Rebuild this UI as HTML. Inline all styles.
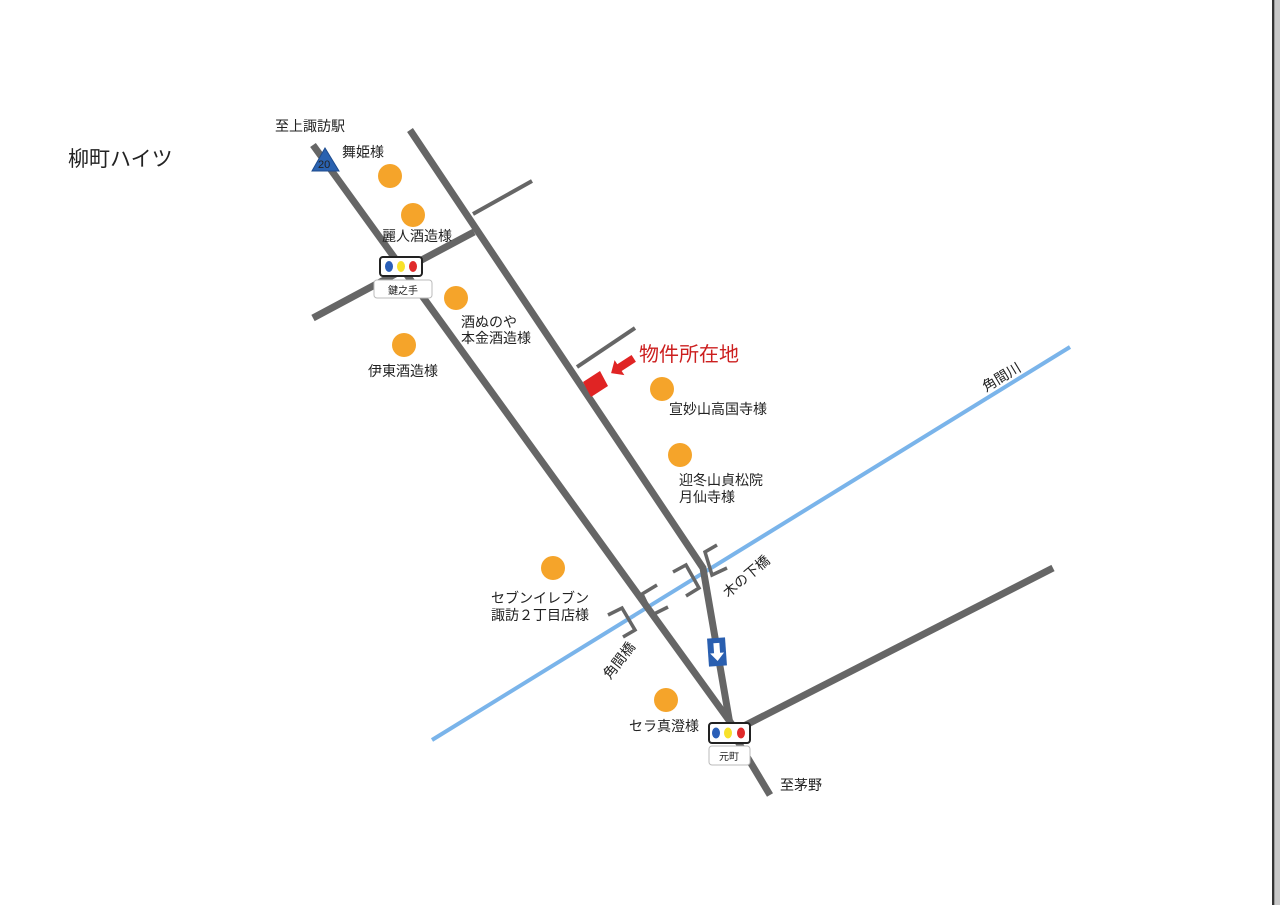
<!DOCTYPE html>
<html><head><meta charset="utf-8"><style>
html,body{margin:0;padding:0;background:#fff;}
svg{display:block;}
text{font-family:"Liberation Sans","Noto Sans CJK JP",sans-serif;fill:#222;}
</style></head><body>
<svg width="1280" height="905" viewBox="0 0 1280 905" xmlns="http://www.w3.org/2000/svg">
<rect x="0" y="0" width="1280" height="905" fill="#fff"/>
<rect x="1272" y="0" width="2.5" height="905" fill="#333"/>
<rect x="1275" y="0" width="5" height="905" fill="#c8c8c8"/>

<text x="68" y="166" font-size="21">柳町ハイツ</text>

<line x1="432" y1="740" x2="1070" y2="347" stroke="#7ab4ea" stroke-width="4"/>

<g stroke="#666" stroke-linecap="butt" fill="none">
<line x1="313" y1="145" x2="736" y2="730" stroke-width="7"/>
<polyline points="410,130 703,568 731,730 770,795" stroke-width="7"/>
<line x1="313" y1="318" x2="474" y2="232" stroke-width="7"/>
<line x1="473" y1="214" x2="532" y2="181" stroke-width="4"/>
<line x1="577" y1="367" x2="635" y2="328" stroke-width="4"/>
<line x1="740" y1="728" x2="1053" y2="568" stroke-width="7"/>
</g>

<g stroke="#666" stroke-width="3.5" fill="none">
<polyline points="717,545 705,552 712,575 727,568"/>
<polyline points="657,585 642,594 652,615 668,607"/>
<polyline points="673,572 686,565 699,588 686,596"/>
<polyline points="608,615 622,608 635,630 623,637"/>
</g>

<polygon points="325,148 312,171 339,171" fill="#2a62b0" stroke="#1d4b8e" stroke-width="1"/>
<text x="318" y="168" font-size="11" fill="#13315e">20</text>

<rect x="380" y="257" width="42" height="19" rx="3" fill="#fff" stroke="#222" stroke-width="2"/>
<ellipse cx="389" cy="266.5" rx="4" ry="5.5" fill="#2a5fb8"/>
<ellipse cx="401" cy="266.5" rx="4" ry="5.5" fill="#f8e12a"/>
<ellipse cx="413" cy="266.5" rx="4" ry="5.5" fill="#e02a2a"/>
<rect x="374" y="280" width="58" height="18" rx="3" fill="#fff" stroke="#bbb" stroke-width="1"/>
<text x="388" y="294" font-size="10">鍵之手</text>

<rect x="709" y="723" width="41" height="20" rx="3" fill="#fff" stroke="#222" stroke-width="2"/>
<ellipse cx="716" cy="733" rx="4" ry="5.5" fill="#2a5fb8"/>
<ellipse cx="728" cy="733" rx="4" ry="5.5" fill="#f8e12a"/>
<ellipse cx="741" cy="733" rx="4" ry="5.5" fill="#e02a2a"/>
<rect x="709" y="746" width="41" height="19" rx="3" fill="#fff" stroke="#bbb" stroke-width="1"/>
<text x="719" y="760" font-size="10">元町</text>

<g transform="rotate(-4 717 652)">
<rect x="708" y="638" width="18" height="28" fill="#2a5fb0"/>
<polygon points="714,643 720,643 720,653 724,653 717,661 710,653 714,653" fill="#fff"/>
</g>

<polygon points="583,382 600,371 608,386 591,397" fill="#e02424"/>
<g transform="translate(622,366) rotate(-33)">
<polygon points="-13,0 -3,-9 -3,-4 14,-4 14,4 -3,4 -3,9" fill="#e02424"/>
</g>
<text x="639" y="361" font-size="20" style="fill:#cc1f1f">物件所在地</text>

<g fill="#f5a42a">
<circle cx="390" cy="176" r="12"/>
<circle cx="413" cy="215" r="12"/>
<circle cx="456" cy="298" r="12"/>
<circle cx="404" cy="345" r="12"/>
<circle cx="662" cy="389" r="12"/>
<circle cx="680" cy="455" r="12"/>
<circle cx="553" cy="568" r="12"/>
<circle cx="666" cy="700" r="12"/>
</g>

<g font-size="14">
<text x="275" y="131">至上諏訪駅</text>
<text x="342" y="157">舞姫様</text>
<text x="382" y="241">麗人酒造様</text>
<text x="461" y="327">酒ぬのや</text>
<text x="461" y="343">本金酒造様</text>
<text x="368" y="376">伊東酒造様</text>
<text x="669" y="414">宣妙山高国寺様</text>
<text x="679" y="485">迎冬山貞松院</text>
<text x="679" y="502">月仙寺様</text>
<text x="491" y="603">セブンイレブン</text>
<text x="491" y="620">諏訪２丁目店様</text>
<text x="629" y="731">セラ真澄様</text>
<text x="780" y="790">至茅野</text>
<text transform="translate(610,680) rotate(-52)">角間橋</text>
<text transform="translate(728,598) rotate(-40)">木の下橋</text>
<text transform="translate(986,392) rotate(-31)">角間川</text>
</g>
</svg>
</body></html>
